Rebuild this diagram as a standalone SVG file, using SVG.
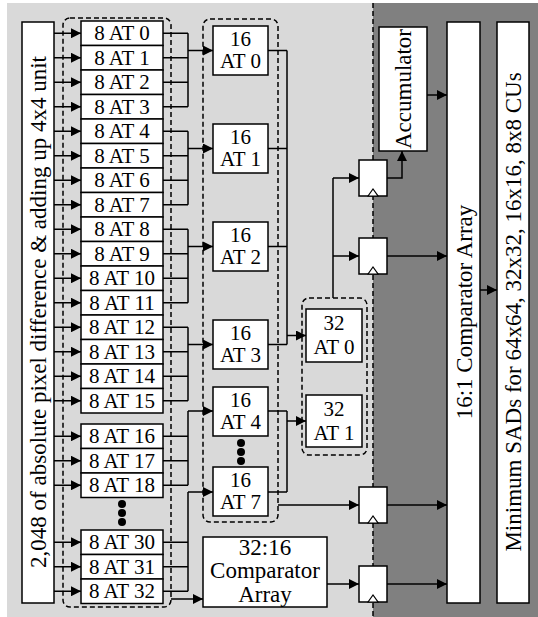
<svg xmlns="http://www.w3.org/2000/svg" width="538" height="617" viewBox="0 0 538 617" font-family="'Liberation Serif', 'Times New Roman', 'DejaVu Serif', serif">
<defs>
<marker id="ah" markerUnits="userSpaceOnUse" markerWidth="10" markerHeight="10" refX="10" refY="5" orient="auto">
<path d="M0,0 L10,5 L0,10 z" fill="#000"/>
</marker>
<style>
.box{fill:#fff;stroke:#000;stroke-width:1.5}
.dash{fill:none;stroke:#000;stroke-width:1.5;stroke-dasharray:5,3}
.ln{fill:none;stroke:#000;stroke-width:1.5}
.ar{fill:none;stroke:#000;stroke-width:1.5;marker-end:url(#ah)}
.t{font-family:'Liberation Serif','Times New Roman','DejaVu Serif',serif;font-size:21px;fill:#000;text-anchor:middle}
.tl{font-family:'Liberation Serif','Times New Roman','DejaVu Serif',serif;font-size:23px;fill:#000;text-anchor:middle}
.clk{fill:#fff;stroke:#000;stroke-width:1.2}
</style>
</defs>
<g id="background">
<rect x="7" y="3" width="366" height="614" fill="#d9d9d9"/>
<rect x="373" y="3" width="165" height="614" fill="#808080"/>
<line x1="373" y1="3" x2="373" y2="617" class="dash"/>
</g>
<g id="groups">
<rect x="63" y="18" width="108" height="589" rx="7" class="dash"/>
<rect x="203" y="19" width="75" height="503" rx="7" class="dash"/>
<rect x="302" y="298" width="65" height="157" rx="7" class="dash"/>
</g>
<g id="connectors">
<line x1="54" y1="33.25" x2="81" y2="33.25" class="ar"/>
<line x1="54" y1="57.75" x2="81" y2="57.75" class="ar"/>
<line x1="54" y1="82.25" x2="81" y2="82.25" class="ar"/>
<line x1="54" y1="106.75" x2="81" y2="106.75" class="ar"/>
<line x1="54" y1="131.25" x2="81" y2="131.25" class="ar"/>
<line x1="54" y1="155.75" x2="81" y2="155.75" class="ar"/>
<line x1="54" y1="180.25" x2="81" y2="180.25" class="ar"/>
<line x1="54" y1="204.75" x2="81" y2="204.75" class="ar"/>
<line x1="54" y1="229.25" x2="81" y2="229.25" class="ar"/>
<line x1="54" y1="253.75" x2="81" y2="253.75" class="ar"/>
<line x1="54" y1="278.25" x2="81" y2="278.25" class="ar"/>
<line x1="54" y1="302.75" x2="81" y2="302.75" class="ar"/>
<line x1="54" y1="327.25" x2="81" y2="327.25" class="ar"/>
<line x1="54" y1="351.75" x2="81" y2="351.75" class="ar"/>
<line x1="54" y1="376.25" x2="81" y2="376.25" class="ar"/>
<line x1="54" y1="400.75" x2="81" y2="400.75" class="ar"/>
<line x1="54" y1="436.25" x2="81" y2="436.25" class="ar"/>
<line x1="54" y1="460.75" x2="81" y2="460.75" class="ar"/>
<line x1="54" y1="485.25" x2="81" y2="485.25" class="ar"/>
<line x1="54" y1="542.25" x2="81" y2="542.25" class="ar"/>
<line x1="54" y1="566.75" x2="81" y2="566.75" class="ar"/>
<line x1="54" y1="591.25" x2="81" y2="591.25" class="ar"/>
<path d="M163,33.25 H188 M163,57.75 H188 M163,82.25 H188 M163,106.75 H188 M188,33.25 V106.75" class="ln"/>
<line x1="188" y1="50.5" x2="213" y2="50.5" class="ar"/>
<path d="M163,131.25 H188 M163,155.75 H188 M163,180.25 H188 M163,204.75 H188 M188,131.25 V204.75" class="ln"/>
<line x1="188" y1="148.5" x2="213" y2="148.5" class="ar"/>
<path d="M163,229.25 H188 M163,253.75 H188 M163,278.25 H188 M163,302.75 H188 M188,229.25 V302.75" class="ln"/>
<line x1="188" y1="246.5" x2="213" y2="246.5" class="ar"/>
<path d="M163,327.25 H188 M163,351.75 H188 M163,376.25 H188 M163,400.75 H188 M188,327.25 V400.75" class="ln"/>
<line x1="188" y1="344.5" x2="213" y2="344.5" class="ar"/>
<path d="M163,436.25 H188 M163,460.75 H188 M163,485.25 H188 M188,411 V485.25" class="ln"/>
<line x1="188" y1="411" x2="213" y2="411" class="ar"/>
<path d="M163,542.25 H188 M163,566.75 H188 M163,591.25 H188 M188,492 V591.25" class="ln"/>
<line x1="188" y1="492" x2="213" y2="492" class="ar"/>
<line x1="171" y1="599" x2="203" y2="599" class="ar"/>
<path d="M268,50.5 H287 M268,148.5 H287 M268,246.5 H287 M268,344.5 H287 M287,50.5 V344.5" class="ln"/>
<line x1="287" y1="335.5" x2="306" y2="335.5" class="ar"/>
<path d="M268,411 H287 M268,492 H287 M287,411 V492" class="ln"/>
<line x1="287" y1="421" x2="306" y2="421" class="ar"/>
<path d="M333,298 V178" class="ln"/>
<line x1="333" y1="178" x2="359" y2="178" class="ar"/>
<line x1="333" y1="256" x2="359" y2="256" class="ar"/>
<line x1="278" y1="505" x2="359" y2="505" class="ar"/>
<line x1="327" y1="584" x2="359" y2="584" class="ar"/>
<path d="M387,178 H402 V151" class="ar"/>
<line x1="427" y1="95" x2="447" y2="95" class="ar"/>
<line x1="387" y1="256" x2="447" y2="256" class="ar"/>
<line x1="387" y1="505" x2="447" y2="505" class="ar"/>
<line x1="387" y1="584" x2="447" y2="584" class="ar"/>
<line x1="480" y1="290" x2="497" y2="290" class="ar"/>
</g>
<g id="input-unit">
<rect x="22" y="22" width="32" height="581" class="box"/>
<text class="tl" transform="translate(38,312) rotate(-90)" y="8">2,048 of absolute pixel difference &amp; adding up 4x4 unit</text>
</g>
<g id="at8">
<rect x="81" y="21" width="82" height="24.5" class="box"/><text class="t" x="122" y="40.25">8 AT 0</text>
<rect x="81" y="45.5" width="82" height="24.5" class="box"/><text class="t" x="122" y="64.75">8 AT 1</text>
<rect x="81" y="70" width="82" height="24.5" class="box"/><text class="t" x="122" y="89.25">8 AT 2</text>
<rect x="81" y="94.5" width="82" height="24.5" class="box"/><text class="t" x="122" y="113.75">8 AT 3</text>
<rect x="81" y="119" width="82" height="24.5" class="box"/><text class="t" x="122" y="138.25">8 AT 4</text>
<rect x="81" y="143.5" width="82" height="24.5" class="box"/><text class="t" x="122" y="162.75">8 AT 5</text>
<rect x="81" y="168" width="82" height="24.5" class="box"/><text class="t" x="122" y="187.25">8 AT 6</text>
<rect x="81" y="192.5" width="82" height="24.5" class="box"/><text class="t" x="122" y="211.75">8 AT 7</text>
<rect x="81" y="217" width="82" height="24.5" class="box"/><text class="t" x="122" y="236.25">8 AT 8</text>
<rect x="81" y="241.5" width="82" height="24.5" class="box"/><text class="t" x="122" y="260.75">8 AT 9</text>
<rect x="81" y="266" width="82" height="24.5" class="box"/><text class="t" x="122" y="285.25">8 AT 10</text>
<rect x="81" y="290.5" width="82" height="24.5" class="box"/><text class="t" x="122" y="309.75">8 AT 11</text>
<rect x="81" y="315" width="82" height="24.5" class="box"/><text class="t" x="122" y="334.25">8 AT 12</text>
<rect x="81" y="339.5" width="82" height="24.5" class="box"/><text class="t" x="122" y="358.75">8 AT 13</text>
<rect x="81" y="364" width="82" height="24.5" class="box"/><text class="t" x="122" y="383.25">8 AT 14</text>
<rect x="81" y="388.5" width="82" height="24.5" class="box"/><text class="t" x="122" y="407.75">8 AT 15</text>
<rect x="81" y="424" width="82" height="24.5" class="box"/><text class="t" x="122" y="443.25">8 AT 16</text>
<rect x="81" y="448.5" width="82" height="24.5" class="box"/><text class="t" x="122" y="467.75">8 AT 17</text>
<rect x="81" y="473" width="82" height="24.5" class="box"/><text class="t" x="122" y="492.25">8 AT 18</text>
<circle cx="122" cy="504" r="4"/><circle cx="122" cy="513" r="4"/><circle cx="122" cy="522" r="4"/>
<rect x="81" y="530" width="82" height="24.5" class="box"/><text class="t" x="122" y="549.25">8 AT 30</text>
<rect x="81" y="554.5" width="82" height="24.5" class="box"/><text class="t" x="122" y="573.75">8 AT 31</text>
<rect x="81" y="579" width="82" height="24.5" class="box"/><text class="t" x="122" y="598.25">8 AT 32</text>
</g>
<g id="at16">
<rect x="213" y="26" width="55" height="49" class="box"/><text class="t" x="240.5" y="46">16</text><text class="t" x="240.5" y="68">AT 0</text>
<rect x="213" y="124" width="55" height="49" class="box"/><text class="t" x="240.5" y="144">16</text><text class="t" x="240.5" y="166">AT 1</text>
<rect x="213" y="222" width="55" height="49" class="box"/><text class="t" x="240.5" y="242">16</text><text class="t" x="240.5" y="264">AT 2</text>
<rect x="213" y="320" width="55" height="49" class="box"/><text class="t" x="240.5" y="340">16</text><text class="t" x="240.5" y="362">AT 3</text>
<rect x="213" y="387" width="55" height="49" class="box"/><text class="t" x="240.5" y="407">16</text><text class="t" x="240.5" y="429">AT 4</text>
<circle cx="241" cy="443" r="4"/><circle cx="241" cy="452" r="4"/><circle cx="241" cy="461" r="4"/>
<rect x="213" y="467" width="55" height="49" class="box"/><text class="t" x="240.5" y="487">16</text><text class="t" x="240.5" y="509">AT 7</text>
</g>
<g id="at32">
<rect x="306" y="309" width="56" height="53" class="box"/><text class="t" x="334" y="330">32</text><text class="t" x="334" y="354">AT 0</text>
<rect x="306" y="395" width="56" height="52" class="box"/><text class="t" x="334" y="416">32</text><text class="t" x="334" y="440">AT 1</text>
</g>
<g id="comparator-32-16">
<rect x="203" y="537" width="124" height="70" class="box"/>
<text class="tl" x="265" y="555">32:16</text>
<text class="tl" x="265" y="578">Comparator</text>
<text class="tl" x="265" y="602">Array</text>
</g>
<g id="registers">
<rect x="359" y="160" width="28" height="36" class="box"/><path d="M368,196 L373,189 L378,196 z" class="clk"/>
<rect x="359" y="238" width="28" height="36" class="box"/><path d="M368,274 L373,267 L378,274 z" class="clk"/>
<rect x="359" y="487" width="28" height="36" class="box"/><path d="M368,523 L373,516 L378,523 z" class="clk"/>
<rect x="359" y="566" width="28" height="36" class="box"/><path d="M368,602 L373,595 L378,602 z" class="clk"/>
</g>
<g id="accumulator">
<rect x="379" y="27" width="48" height="124" class="box"/>
<text class="tl" transform="translate(403,89) rotate(-90)" y="8">Accumulator</text>
</g>
<g id="comparator-16-1">
<rect x="447" y="22" width="33" height="581" class="box"/>
<text class="tl" transform="translate(463.5,312) rotate(-90)" y="8">16:1 Comparator Array</text>
</g>
<g id="output">
<rect x="497" y="22" width="32" height="581" class="box"/>
<text class="tl" transform="translate(513,312) rotate(-90)" y="8">Minimum SADs for 64x64, 32x32, 16x16, 8x8 CUs</text>
</g>
</svg>
